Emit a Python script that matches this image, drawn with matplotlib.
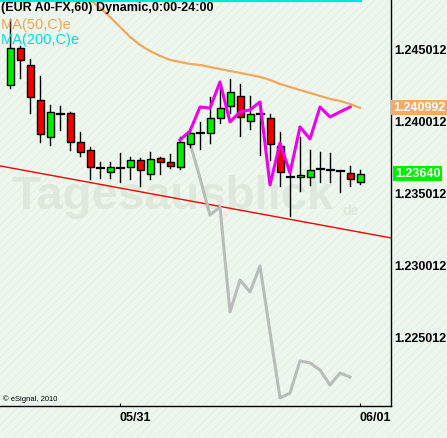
"""EUR/USD hourly candles with moving averages (eSignal style)."""

import matplotlib
matplotlib.use("Agg")
import matplotlib.pyplot as plt
from matplotlib.patches import Rectangle
import matplotlib.transforms as mtransforms

plt.rcParams["font.family"] = ["Liberation Sans", "DejaVu Sans"]

# ---- data (hourly candles, index 0 = first bar) ----
opens = [1.24258, 1.24515, 1.24397, 1.24154, 1.23897, 1.24057, 1.24064, 1.23862,
         1.23807, 1.23682, 1.23654, 1.23682, 1.23689, 1.23737, 1.23640, 1.23751,
         1.23723, 1.23689, 1.23848, 1.23925, 1.23925, 1.24029, 1.24112, 1.24182,
         1.24008, 1.24057, 1.24029, 1.23834, 1.23619, 1.23619, 1.23619, 1.23675,
         1.23668, 1.23661, 1.23647, 1.23585]
highs = [1.24717, 1.24529, 1.24439, 1.24321, 1.24119, 1.24112, 1.24070, 1.23932,
         1.23828, 1.23723, 1.23723, 1.23786, 1.23758, 1.23751, 1.23793, 1.23758,
         1.23779, 1.23897, 1.23960, 1.24001, 1.24175, 1.24237, 1.24300, 1.24265,
         1.24182, 1.24140, 1.24057, 1.23932, 1.23689, 1.23897, 1.23807, 1.23793,
         1.23786, 1.23668, 1.23696, 1.23668]
lows = [1.24237, 1.24307, 1.24064, 1.23862, 1.23842, 1.23946, 1.23807, 1.23765,
        1.23605, 1.23612, 1.23612, 1.23585, 1.23605, 1.23557, 1.23605, 1.23640,
        1.23682, 1.23675, 1.23828, 1.23814, 1.23855, 1.23994, 1.24064, 1.23904,
        1.23953, 1.23772, 1.23737, 1.23557, 1.23348, 1.23522, 1.23564, 1.23585,
        1.23585, 1.23515, 1.23557, 1.23571]
closes = [1.24515, 1.24432, 1.24175, 1.23918, 1.24071, 1.24057, 1.23862, 1.23793,
          1.23689, 1.23682, 1.23689, 1.23682, 1.23737, 1.23668, 1.23744, 1.23723,
          1.23696, 1.23862, 1.23925, 1.23925, 1.24029, 1.24098, 1.24210, 1.24036,
          1.24057, 1.24057, 1.23848, 1.23654, 1.23619, 1.23633, 1.23668, 1.23675,
          1.23668, 1.23661, 1.23605, 1.23640]

# MA(50) from bar 6 onwards (first values are above the visible range)
ma50_x = list(range(6, 36))
ma50 = [1.25043, 1.24946, 1.24848, 1.24793, 1.24730, 1.24661, 1.24592, 1.24536,
        1.24494, 1.24460, 1.24432, 1.24418, 1.24404, 1.24397, 1.24383, 1.24369,
        1.24355, 1.24342, 1.24328, 1.24314, 1.24293, 1.24265, 1.24244, 1.24223,
        1.24203, 1.24182, 1.24161, 1.24147, 1.24126, 1.240992]

# MA(200) sits above the chart top
ma200_x = list(range(-1, 36))
ma200 = [1.24848] * len(ma200_x)

# dynamic path (magenta) and projection (grey)
dyn_x = [17, 18, 19, 20, 21, 22, 23, 24, 25, 26, 27, 28, 29, 30, 31, 32, 33, 34]
dyn = [1.23876, 1.23939, 1.24105, 1.24098, 1.24279, 1.24001, 1.24071, 1.24085,
       1.24140, 1.23564, 1.23855, 1.23647, 1.23967, 1.23883, 1.24105, 1.24036,
       1.24071, 1.24105]
proj_x = [18, 19, 20, 21, 22, 23, 24, 25, 27, 28, 29, 30, 31, 32, 33, 34]
proj = [1.23855, 1.23612, 1.23355, 1.23411, 1.22682, 1.22904, 1.22821, 1.23001,
        1.22085, 1.22119, 1.22342, 1.22328, 1.22279, 1.22175, 1.22258, 1.22230]

# trend line end points
trend_x = [-1, 38.1]
trend = [1.23696, 1.23196]

yticks = [1.245012, 1.240012, 1.235012, 1.230012, 1.225012]
xtick_pos = [11, 35]
xtick_labels = ["05/31", "06/01"]

# ---- figure ----
W, H = 447, 438
fig = plt.figure(figsize=(W / 100, H / 100), dpi=100)
fig.patch.set_facecolor("#eef7ee")
plt.rcParams["hatch.linewidth"] = 0.6

# hatched background in its own axes behind everything
bg = fig.add_axes([0, 0, 1, 1], zorder=-5)
bg.set_axis_off()
bg.add_patch(Rectangle((0, 0), 1, 1, transform=bg.transAxes, facecolor="#eef7ee",
                       edgecolor="#e3eee3", hatch="////", linewidth=0))

ax = fig.add_axes([0, 32 / H, 391 / W, 406 / H], zorder=1)
ax.set_facecolor("none")
ax.set_xlim(-1, 38.1)
ax.set_ylim(1.22029, 1.24848)

# watermark
ax.text(0.03, 0.485, "Tagesausblick", transform=ax.transAxes, fontsize=34,
        fontweight="bold", color="#dde9dd", ha="left", va="baseline", zorder=0.5)
ax.text(0.875, 0.47, "de", transform=ax.transAxes, fontsize=10,
        fontweight="bold", color="#dde9dd", ha="left", va="baseline", zorder=0.5)

ax.plot(trend_x, trend, color="#ff0000", linewidth=1.0, zorder=1)
ax.plot(proj_x, proj, color="#b9bdb9", linewidth=2.2, zorder=2)

# candles
bw = 0.7
for i, (o, h, l, c) in enumerate(zip(opens, highs, lows, closes)):
    ax.plot([i, i], [l, h], color="black", linewidth=1.0, zorder=3)
    if abs(c - o) < 1e-6:
        ax.plot([i - bw / 2, i + bw / 2], [o, o], color="black", linewidth=1.6,
                zorder=4)
        continue
    color = "#00ee00" if c > o else "#ee0000"
    ax.add_patch(Rectangle((i - bw / 2, min(o, c)), bw, abs(c - o),
                           facecolor=color, edgecolor="black", linewidth=1.0,
                           zorder=4))

ax.plot(ma50_x, ma50, color="#f4a75c", linewidth=1.6, zorder=5)
ax.plot(ma200_x, ma200, color="#00e5e5", linewidth=3, zorder=5)
ax.plot(dyn_x, dyn, color="#ee00ee", linewidth=2.2, zorder=6)

# axes styling
for side in ("left", "top"):
    ax.spines[side].set_visible(False)
for side in ("right", "bottom"):
    ax.spines[side].set_color("black")
    ax.spines[side].set_linewidth(1.0)

ax.yaxis.tick_right()
ax.set_yticks(yticks)
ax.set_yticklabels([f"{v:.6f}" for v in yticks], fontsize=9, fontweight="bold")
ax.tick_params(axis="y", length=0, pad=2, colors="black")
ax.set_xticks(xtick_pos)
ax.set_xticklabels(xtick_labels, fontsize=9, fontweight="bold", ha="left")
ax.tick_params(axis="x", direction="in", length=2, pad=4, colors="black")

# price tags on the right
blend = mtransforms.blended_transform_factory(ax.transAxes, ax.transData)
ax.text(1.005, ma50[-1], f"{ma50[-1]:.6f}", transform=blend, fontsize=9,
        fontweight="bold", color="white", ha="left", va="center", zorder=7,
        bbox=dict(boxstyle="square,pad=0.12", facecolor="#f2ab68", edgecolor="none"),
        clip_on=False)
ax.text(1.01, closes[-1], f"{closes[-1]:.5f}", transform=blend, fontsize=9,
        fontweight="bold", color="white", ha="left", va="center", zorder=7,
        bbox=dict(boxstyle="square,pad=0.12", facecolor="#00ee00", edgecolor="none"),
        clip_on=False)

# header texts
fig.text(1 / W, 1 - 8 / H, "(EUR A0-FX,60) Dynamic,0:00-24:00", fontsize=9,
         fontweight="bold", color="black", ha="left", va="center", zorder=10)
fig.text(1 / W, 1 - 24.5 / H, "MA(50,C)e", fontsize=10.5, color="#f2a45a",
         ha="left", va="center", zorder=10)
fig.text(1 / W, 1 - 40 / H, "MA(200,C)e", fontsize=10.5, color="#00e0e0",
         ha="left", va="center", zorder=10)
fig.text(3 / W, 1 - 399 / H, "\u00a9 eSignal, 2010", fontsize=5.5, color="black",
         ha="left", va="center", zorder=10)

fig.savefig("out.png", dpi=100, facecolor=fig.get_facecolor())
